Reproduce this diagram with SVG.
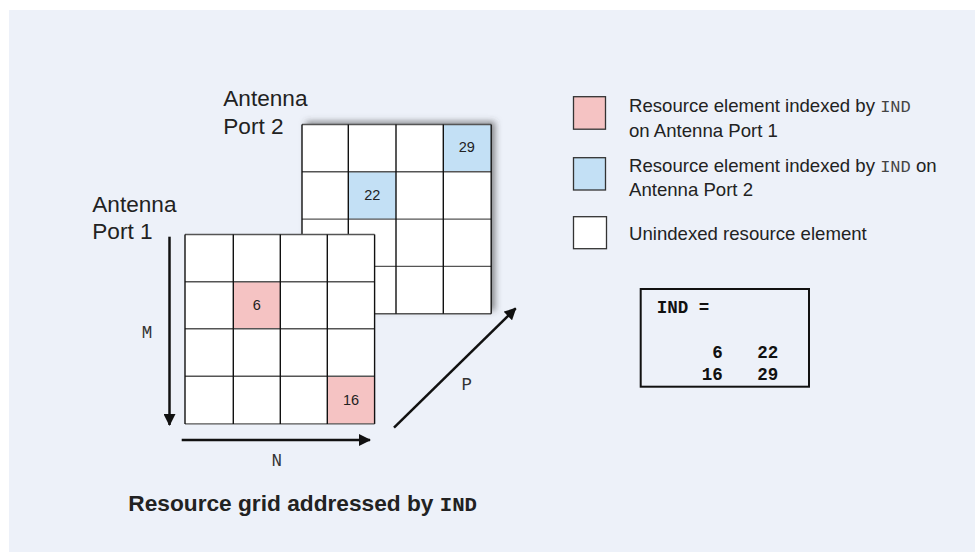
<svg xmlns="http://www.w3.org/2000/svg" width="975" height="552" viewBox="0 0 975 552">
<style>
.sans{font-family:"Liberation Sans",Arial,sans-serif;fill:#222}
.mono{font-family:"Liberation Mono","Courier New",monospace}
.vl{stroke:#111;stroke-width:1.4}
.hl{stroke:#555;stroke-width:1.4}
.num{font-family:"Liberation Sans",Arial,sans-serif;font-size:14.5px;fill:#222;text-anchor:middle}
.ax{font-family:"Liberation Mono","Courier New",monospace;font-size:17.5px;fill:#333;text-anchor:middle}
.arr{stroke:#111;stroke-width:2.5;fill:none;marker-end:url(#ah)}
.lg{stroke:#333;stroke-width:1.3}
.lt{font-size:18.6px}
.ant{font-size:22.6px}
</style>
<defs>
<marker id="ah" markerUnits="userSpaceOnUse" markerWidth="12" markerHeight="12" refX="11" refY="6" orient="auto" viewBox="0 0 12 12">
<path d="M0,0 L12,6 L0,12 z" fill="#111"/>
</marker>
<filter id="sh" x="-10%" y="-10%" width="120%" height="120%">
<feDropShadow dx="4" dy="-3" stdDeviation="3" flood-color="#444" flood-opacity="0.6"/>
</filter>
</defs>
<rect x="0" y="0" width="975" height="552" fill="#ffffff"/>
<rect x="9" y="10" width="966" height="542" fill="#EDF1F9"/>

<g id="grid-port2">
<rect x="302" y="124.5" width="189.2" height="189.2" fill="#fff" filter="url(#sh)"/>
<rect x="443.3" y="124.5" width="47.9" height="47.3" fill="#C3E0F5"/>
<rect x="348.3" y="171.8" width="47.7" height="47.3" fill="#C3E0F5"/>
<g class="hl"><line x1="302" y1="124.5" x2="491.2" y2="124.5"/><line x1="302" y1="171.8" x2="491.2" y2="171.8"/><line x1="302" y1="219.1" x2="491.2" y2="219.1"/><line x1="302" y1="266.4" x2="491.2" y2="266.4"/><line x1="302" y1="313.7" x2="491.2" y2="313.7"/></g>
<g class="vl"><line x1="302" y1="124.5" x2="302" y2="313.7"/><line x1="348.3" y1="124.5" x2="348.3" y2="313.7"/><line x1="396" y1="124.5" x2="396" y2="313.7"/><line x1="443.3" y1="124.5" x2="443.3" y2="313.7"/><line x1="491.2" y1="124.5" x2="491.2" y2="313.7"/></g>
<text class="num" x="466.7" y="151.7">29</text>
<text class="num" x="372.2" y="199.7">22</text>
<text class="sans ant" x="223.3" y="106">Antenna</text>
<text class="sans ant" x="223.3" y="134">Port 2</text>
</g>

<g id="grid-port1">
<rect x="185" y="234.5" width="189.6" height="189.4" fill="#fff"/>
<rect x="233.3" y="281.8" width="47" height="47" fill="#F5C3C3"/>
<rect x="327.3" y="376.2" width="47.3" height="47.7" fill="#F5C3C3"/>
<g class="hl"><line x1="185" y1="234.5" x2="374.6" y2="234.5"/><line x1="185" y1="281.8" x2="374.6" y2="281.8"/><line x1="185" y1="328.8" x2="374.6" y2="328.8"/><line x1="185" y1="376.2" x2="374.6" y2="376.2"/><line x1="185" y1="423.9" x2="374.6" y2="423.9"/></g>
<g class="vl"><line x1="185" y1="234.5" x2="185" y2="423.9"/><line x1="233.3" y1="234.5" x2="233.3" y2="423.9"/><line x1="280.3" y1="234.5" x2="280.3" y2="423.9"/><line x1="327.3" y1="234.5" x2="327.3" y2="423.9"/><line x1="374.6" y1="234.5" x2="374.6" y2="423.9"/></g>
<text class="num" x="256.8" y="310.2">6</text>
<text class="num" x="351" y="404.7">16</text>
<text class="sans ant" x="92.3" y="211.7">Antenna</text>
<text class="sans ant" x="92.3" y="239.3">Port 1</text>
</g>

<g id="connectors">
<line class="arr" x1="169.5" y1="236.7" x2="169.5" y2="425"/>
<line class="arr" x1="181.7" y1="440" x2="370" y2="440"/>
<line class="arr" x1="394" y1="427.7" x2="515.7" y2="308.3"/>
</g>
<g id="axis-labels">
<text class="ax" x="147" y="337.5">M</text>
<text class="ax" x="276.7" y="465.5">N</text>
<text class="ax" x="466.7" y="389.5">P</text>
</g>

<g id="legend">
<rect class="lg" x="573.5" y="96.7" width="32" height="32.5" fill="#F5C3C3"/>
<text class="sans lt" x="629" y="112.3">Resource element indexed by <tspan class="mono" font-size="17" fill="#444">IND</tspan></text>
<text class="sans lt" x="629" y="136.7">on Antenna Port 1</text>
<rect class="lg" x="573.5" y="157.7" width="32" height="32.3" fill="#C3E0F5"/>
<text class="sans lt" x="629" y="172.3">Resource element indexed by <tspan class="mono" font-size="17" fill="#444">IND</tspan> on</text>
<text class="sans lt" x="629" y="196">Antenna Port 2</text>
<rect class="lg" x="573.5" y="216.7" width="33" height="32" fill="#fff"/>
<text class="sans lt" x="629" y="240">Unindexed resource element</text>
</g>

<g id="matrix">
<rect x="640.7" y="289" width="168.3" height="97.7" fill="none" stroke="#111" stroke-width="2"/>
<g class="mono" font-weight="bold" font-size="17.5" fill="#111">
<text x="656.7" y="313.3">IND =</text>
<text x="722.7" y="358.3" text-anchor="end">6</text>
<text x="778.3" y="358.3" text-anchor="end">22</text>
<text x="722.7" y="380" text-anchor="end">16</text>
<text x="778.3" y="380" text-anchor="end">29</text>
</g>
</g>

<g id="title">
<text class="sans" font-size="22.7" font-weight="bold" x="128.3" y="511" fill="#111">Resource grid addressed by <tspan class="mono" font-size="20.7">IND</tspan></text>
</g>
</svg>
